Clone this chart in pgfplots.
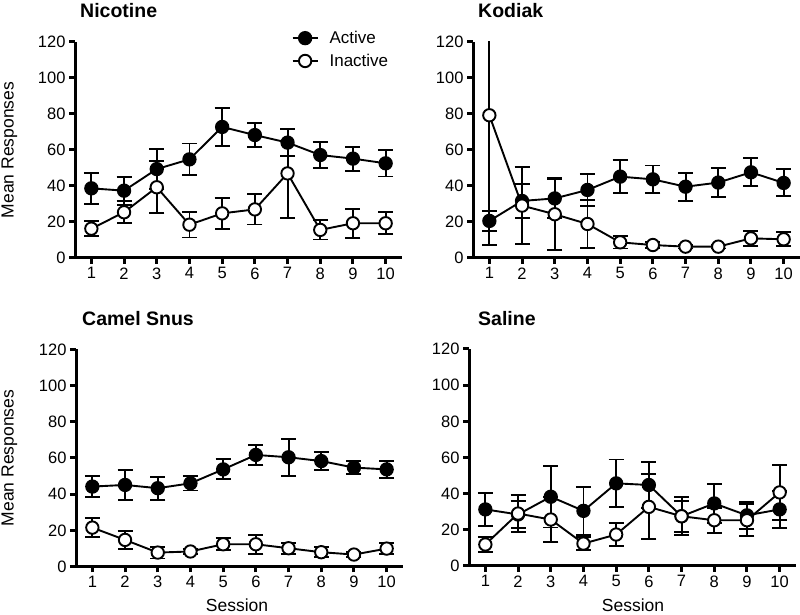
\documentclass[border=0pt]{standalone}
\usepackage{fontspec}
\setmainfont{Liberation Sans}
\usepackage{pgfplots}
\usepackage{pgfplotstable}
\pgfplotsset{compat=1.18}

% session, active mean, active sem, inactive mean, inactive sem
\pgfplotstableread{
s a ae i ie
1 38.7 8.5 16.3 4.3
2 37.4 7.8 25.4 6.2
3 49.4 11.0 39.3 14.5
4 54.8 8.8 18.5 7.1
5 72.8 10.4 24.8 8.7
6 68.3 6.7 27.0 8.4
7 64.1 7.5 47.0 24.6
8 57.2 7.0 15.6 5.3
9 55.2 6.7 19.3 8.0
10 52.6 7.3 19.3 6.2
}\nicotine
\pgfplotstableread{
s a ae i ie
1 20.6 5.4 79.3 72.0
2 31.7 9.5 29.1 21.3
3 33.1 11.0 24.3 20.0
4 37.8 9.0 18.9 13.3
5 45.2 9.1 8.7 3.4
6 43.7 7.7 7.2 1.5
7 39.6 7.7 6.3 1.0
8 41.9 8.2 6.3 1.0
9 47.6 7.8 10.9 4.2
10 41.7 7.5 10.4 3.8
}\kodiak
\pgfplotstableread{
s a ae i ie
1 44.2 6.0 21.5 5.3
2 45.1 8.3 14.7 4.8
3 43.3 6.3 7.7 3.3
4 46.0 4.0 8.3 1.5
5 53.7 5.5 12.3 3.4
6 61.7 5.7 12.3 5.2
7 60.4 10.2 10.1 3.0
8 58.3 5.0 7.9 2.8
9 54.7 3.4 6.6 1.5
10 53.7 4.8 9.9 3.2
}\camel
\pgfplotstableread{
s a ae i ie
1 31.3 9.0 11.9 4.3
2 28.5 7.5 29.0 10.3
3 38.3 17.0 25.7 12.4
4 30.5 13.3 12.4 3.7
5 45.7 13.2 17.4 6.4
6 44.8 12.5 32.7 18.0
7 27.5 10.5 27.5 8.5
8 34.6 10.8 25.3 7.0
9 28.0 7.3 25.3 8.8
10 31.3 10.2 40.7 15.2
}\saline

\pgfplotsset{
  panel/.style={
    scale only axis, width=327pt, height=216pt, anchor=south west,
    xmin=0.5, xmax=10.5, ymin=0, ymax=120,
    axis lines=left, axis line style={-, line width=3pt},
    xtick={1,...,10}, ytick={0,20,...,120},
    tick align=outside, major tick length=6pt,
    tick style={line width=3pt, black},
    ticklabel style={font=\fontsize{16.5}{16.5}\selectfont},
    /pgf/number format/assume math mode=true,
  },
  act/.style={black, line width=1.9pt, mark=*, mark size=6.2pt,
    mark options={fill=black, solid},
    error bars/.cd, y dir=both, y explicit,
    error bar style={line width=1.9pt},
    error mark options={rotate=90, mark size=7.5pt, line width=1.9pt}},
  inact/.style={black, line width=1.9pt, mark=*, mark size=6.2pt,
    mark options={fill=white, solid},
    error bars/.cd, y dir=both, y explicit,
    error bar style={line width=1.9pt},
    error mark options={rotate=90, mark size=7.5pt, line width=1.9pt}},
}

\begin{document}
\begin{tikzpicture}
\useasboundingbox (0,0) rectangle (800pt,615pt);

\begin{axis}[panel, at={(75pt,357pt)},
  legend style={draw=none, fill=none, at={(axis description cs:0.662,1.06)},
    anchor=north west, font=\fontsize{17}{17}\selectfont,
    row sep=5pt, inner sep=0pt},
  legend cell align=left,
  legend image code/.code={\draw[mark repeat=2, mark phase=2] plot coordinates {(0pt,0pt) (12.5pt,0pt) (25pt,0pt)}; \path (34pt,0pt);}]
\addplot[act] table[x=s, y=a, y error=ae] {\nicotine};
\addplot[inact] table[x=s, y=i, y error=ie] {\nicotine};
\legend{Active, Inactive}
\end{axis}

\begin{axis}[panel, at={(473pt,357pt)}]
\addplot[act] table[x=s, y=a, y error=ae] {\kodiak};
\addplot[inact] table[x=s, y=i, y error=ie] {\kodiak};
\end{axis}

\begin{axis}[panel, at={(76pt,48.5pt)}, height=217pt]
\addplot[act] table[x=s, y=a, y error=ae] {\camel};
\addplot[inact] table[x=s, y=i, y error=ie] {\camel};
\end{axis}

\begin{axis}[panel, at={(469pt,49pt)}, height=217pt]
\addplot[act] table[x=s, y=a, y error=ae] {\saline};
\addplot[inact] table[x=s, y=i, y error=ie] {\saline};
\end{axis}

\begin{scope}[every node/.style={inner sep=0pt}]
\node[anchor=west, font=\bfseries\fontsize{19.5}{19.5}\selectfont] at (80pt,604pt) {Nicotine};
\node[anchor=west, font=\bfseries\fontsize{19.5}{19.5}\selectfont] at (478pt,604pt) {Kodiak};
\node[anchor=west, font=\bfseries\fontsize{19.5}{19.5}\selectfont] at (82pt,296pt) {Camel Snus};
\node[anchor=west, font=\bfseries\fontsize{19.5}{19.5}\selectfont] at (478pt,296pt) {Saline};
\node[rotate=90, font=\fontsize{17.5}{17.5}\selectfont] at (9.5pt,465pt) {Mean Responses};
\node[rotate=90, font=\fontsize{17.5}{17.5}\selectfont] at (9.5pt,157pt) {Mean Responses};
\node[font=\fontsize{17.5}{17.5}\selectfont] at (237pt,10pt) {Session};
\node[font=\fontsize{17.5}{17.5}\selectfont] at (633pt,10pt) {Session};
\end{scope}
\end{tikzpicture}
\end{document}
